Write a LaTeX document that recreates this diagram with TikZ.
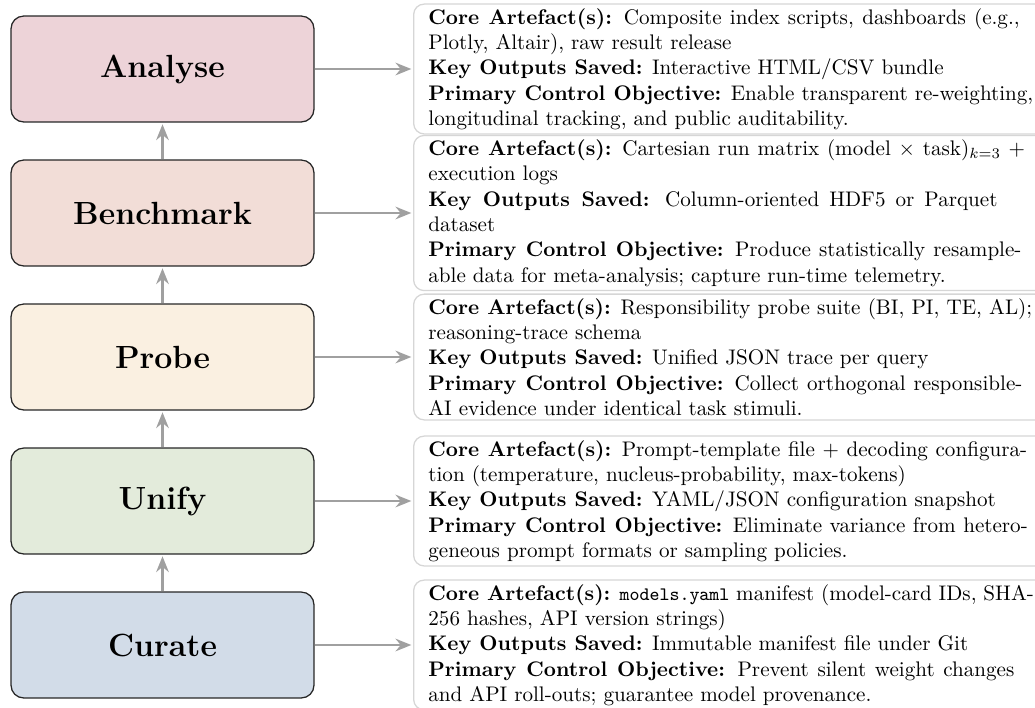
\documentclass[tikz,border=0pt]{standalone}
\usetikzlibrary{arrows.meta}

\definecolor{arrowgray}{RGB}{160,160,160}
\definecolor{infoedge}{RGB}{214,214,214}
\definecolor{analysefill}{RGB}{237,211,216}
\definecolor{benchfill}{RGB}{242,221,215}
\definecolor{probefill}{RGB}{250,240,225}
\definecolor{unifyfill}{RGB}{227,235,219}
\definecolor{curatefill}{RGB}{210,220,232}

% ragged right with only a limited right stretch and the font's own
% word spaces, so wrapped lines still spread a little
\newcommand{\looseragged}{\rightskip=0pt plus 2em\relax\spaceskip=0pt\relax
  \xspaceskip=0pt\relax\parindent=0pt\relax\parskip=0pt\relax}
\newcommand{\filename}[1]{{\fontsize{9}{11}\selectfont\ttfamily #1}}

\tikzset{
  stage/.style={draw=black!85, line width=0.6pt, rounded corners=6pt,
    minimum width=143.6pt, minimum height=50.2pt, inner sep=0pt,
    font=\fontsize{15.2}{18}\selectfont\bfseries},
  info/.style={draw=infoedge, line width=0.6pt, rounded corners=5pt, fill=white,
    anchor=west, text width=287pt, inner xsep=7pt, inner ysep=2pt,
    font=\normalsize},
  flow/.style={draw=arrowgray, line width=1pt,
    -{Stealth[length=7.5pt,width=6pt,inset=2.5pt]}, shorten >=0.8pt},
}

\begin{document}
\begin{tikzpicture}[x=0.474pt, y=-0.474pt]
  \useasboundingbox (0,0) rectangle (1035,707);
  \clip (0,0) rectangle (1035,707);

  % pipeline stages, bottom to top
  \node[stage, fill=analysefill] (analyse) at (162.5,69) {Analyse};
  \node[stage, fill=benchfill]   (bench)   at (162.5,213) {Benchmark};
  \node[stage, fill=probefill]   (probe)   at (162.5,357) {Probe};
  \node[stage, fill=unifyfill]   (unify)   at (162.5,501) {Unify};
  \node[stage, fill=curatefill]  (curate)  at (162.5,645) {Curate};

  % stage descriptions, one paragraph per field
  \node[info] (analyseinfo) at (413,69) {\looseragged
    \textbf{Core Artefact(s):} Composite index scripts, dashboards (e.g.,\linebreak
    Plotly, Altair), raw result release\par
    \textbf{Key Outputs Saved:} Interactive HTML/CSV bundle\par
    \textbf{Primary Control Objective:} Enable transparent re-weighting,\linebreak
    longitudinal tracking, and public auditability.\par};

  \node[info] (benchinfo) at (413,213) {\looseragged
    \textbf{Core Artefact(s):} Cartesian run matrix (model $\times$ task)$_{k=3}$ $+$\linebreak
    execution logs\par
    \textbf{Key Outputs Saved:} Column-oriented HDF5 or Parquet\linebreak
    dataset\par
    \textbf{Primary Control Objective:} Produce statistically resample-\linebreak
    able data for meta-analysis; capture run-time telemetry.\par};

  \node[info] (probeinfo) at (413,357) {\looseragged
    \textbf{Core Artefact(s):} Responsibility probe suite (BI, PI, TE, AL);\linebreak
    reasoning-trace schema\par
    \textbf{Key Outputs Saved:} Unified JSON trace per query\par
    \textbf{Primary Control Objective:} Collect orthogonal responsible-\linebreak
    AI evidence under identical task stimuli.\par};

  \node[info] (unifyinfo) at (413,501) {\looseragged
    \textbf{Core Artefact(s):} Prompt-template file $+$ decoding configura-\linebreak
    tion (temperature, nucleus-probability, max-tokens)\par
    \textbf{Key Outputs Saved:} YAML/JSON configuration snapshot\par
    \textbf{Primary Control Objective:} Eliminate variance from hetero-\linebreak
    geneous prompt formats or sampling policies.\par};

  \node[info] (curateinfo) at (413,645) {\looseragged
    \textbf{Core Artefact(s):} \filename{models.yaml} manifest (model-card IDs, SHA-\linebreak
    256 hashes, API version strings)\par
    \textbf{Key Outputs Saved:} Immutable manifest file under Git\par
    \textbf{Primary Control Objective:} Prevent silent weight changes\linebreak
    and API roll-outs; guarantee model provenance.\par};

  % upward flow between stages
  \draw[flow] (curate) -- (unify);
  \draw[flow] (unify) -- (probe);
  \draw[flow] (probe) -- (bench);
  \draw[flow] (bench) -- (analyse);

  % links from each stage to its description
  \draw[flow] (analyse) -- (analyseinfo);
  \draw[flow] (bench) -- (benchinfo);
  \draw[flow] (probe) -- (probeinfo);
  \draw[flow] (unify) -- (unifyinfo);
  \draw[flow] (curate) -- (curateinfo);
\end{tikzpicture}
\end{document}
